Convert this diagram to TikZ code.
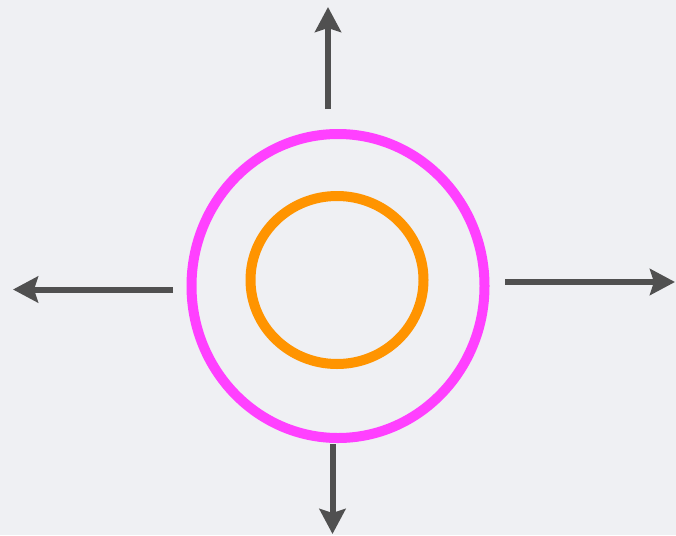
\documentclass[tikz,border=0pt]{standalone}
\usepackage{xcolor}
\usetikzlibrary{arrows.meta,shapes.geometric}
\definecolor{ringpink}{HTML}{FF40FF}
\definecolor{ringorange}{HTML}{FF9400}
\definecolor{arrowgray}{HTML}{505050}
\definecolor{bggray}{HTML}{EFF0F3}

\begin{document}
\begin{tikzpicture}[
    x=1pt, y=-1pt,
    ring/.style={draw, ellipse, inner sep=0pt, line width=10pt},
    push/.style={-{Stealth[length=25pt, width=26pt, inset=4pt]},
                 line width=6pt, arrowgray},
]
% Background
\fill[bggray] (0,0) rectangle (676,535);
\useasboundingbox (0,0) rectangle (676,535);

% Rings
\node[ring, ringpink, minimum width=293pt, minimum height=304pt] (outer) at (338,286) {};
\node[ring, ringorange, minimum width=173pt, minimum height=168pt] (inner) at (337,280) {};

% Arrow ends
\coordinate (upS) at (328,109);
\coordinate (upE) at (328,7);
\coordinate (leftS) at (173,289.5);
\coordinate (leftE) at (13,289.5);
\coordinate (rightS) at (505,282);
\coordinate (rightE) at (675,282);
\coordinate (downS) at (332.5,444);
\coordinate (downE) at (332.5,534);

% Arrows
\draw[push] (upS) -- (upE);
\draw[push] (leftS) -- (leftE);
\draw[push] (rightS) -- (rightE);
\draw[push] (downS) -- (downE);
\end{tikzpicture}
\end{document}
